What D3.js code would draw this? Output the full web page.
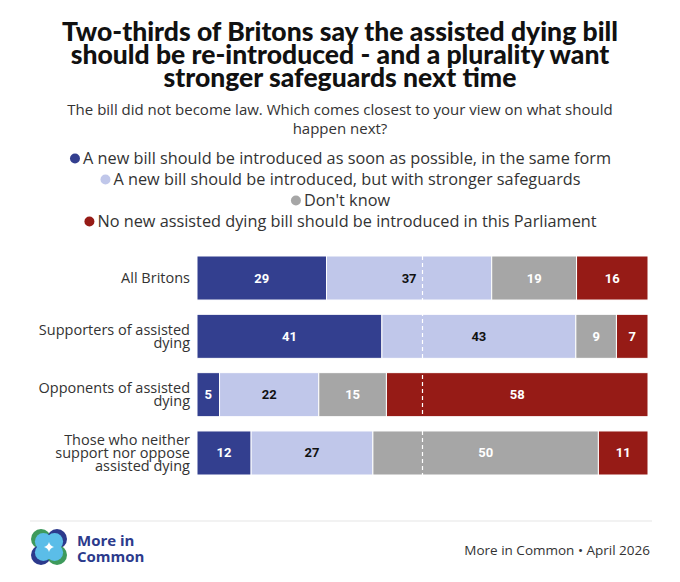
<!DOCTYPE html>
<html>
<head>
<meta charset="utf-8">
<script src="https://cdn.jsdelivr.net/npm/d3@7"></script>
<style>
  body { margin: 0; background: #fff; }
  svg { display: block; font-family: "Open Sans", "Noto Sans", sans-serif; }
</style>
</head>
<body>
<svg id="chart" width="680" height="582"></svg>
<script>
const categories = [
    ["All Britons"],
    ["Supporters of assisted", "dying"],
    ["Opponents of assisted", "dying"],
    ["Those who neither", "support nor oppose", "assisted dying"]
];
const seriesNames = [
    "A new bill should be introduced as soon as possible, in the same form",
    "A new bill should be introduced, but with stronger safeguards",
    "Don't know",
    "No new assisted dying bill should be introduced in this Parliament"
];
const sameForm = [29, 41, 5, 12];
const strongerSafeguards = [37, 43, 22, 27];
const dontKnow = [19, 9, 15, 50];
const noNewBill = [16, 7, 58, 11];
const colors = ["#333f8f", "#c0c7ea", "#a6a6a6", "#961b16"];
const labelColors = ["#fff", "#111", "#fff", "#fff"];
const titleLines = [
    "Two-thirds of Britons say the assisted dying bill",
    "should be re-introduced - and a plurality want",
    "stronger safeguards next time"
];
const subtitleLines = [
    "The bill did not become law. Which comes closest to your view on what should",
    "happen next?"
];
const footerText = "More in Common \u2022 April 2026";

const svg = d3.select("#chart");

// title + subtitle
svg.append("g").selectAll("text").data(titleLines).join("text")
    .attr("x", 340).attr("y", (d, i) => 40.5 + i * 23)
    .attr("text-anchor", "middle")
    .attr("font-family", "Lato, sans-serif")
    .attr("font-size", 26.5).attr("font-weight", 900).attr("fill", "#111")
    .text(d => d);

svg.append("g").selectAll("text").data(subtitleLines).join("text")
    .attr("x", 340).attr("y", (d, i) => 115 + i * 19)
    .attr("text-anchor", "middle")
    .attr("font-size", 15).attr("fill", "#333")
    .text(d => d);

// legend, one centred line per series
const legend = svg.append("g").selectAll("g").data(seriesNames).join("g")
    .attr("transform", (d, i) => `translate(340,${164 + i * 21})`);
legend.append("text")
    .attr("x", 7).attr("text-anchor", "middle")
    .attr("font-size", 16.3).attr("fill", "#333")
    .text(d => d)
    .each(function (d, i) {
        const w = this.getComputedTextLength();
        d3.select(this.parentNode).append("circle")
            .attr("cx", 7 - w / 2 - 8).attr("cy", -5.5).attr("r", 5)
            .attr("fill", colors[i]);
    });

// stacked bars, each row scaled to its own total (rounded shares can add to 101)
const rows = categories.map((c, i) => {
    const vals = [sameForm[i], strongerSafeguards[i], dontKnow[i], noNewBill[i]];
    const total = d3.sum(vals);
    let acc = 0;
    return vals.map((v, k) => {
        const s = { row: i, k, v, x0: acc / total * 100, x1: (acc + v) / total * 100 };
        acc += v;
        return s;
    });
});

const x = d3.scaleLinear().domain([0, 100]).range([197, 648]);
const y = d3.scaleBand().domain(d3.range(categories.length)).range([249, 482]).paddingInner(0.245).paddingOuter(0.12);

const bars = svg.append("g");
rows.forEach(segs => {
    bars.selectAll(null).data(segs).join("rect")
        .attr("x", d => x(d.x0))
        .attr("y", d => y(d.row))
        .attr("width", d => x(d.x1) - x(d.x0))
        .attr("height", y.bandwidth())
        .attr("fill", d => colors[d.k])
        .attr("stroke", "#fff").attr("stroke-width", 1);
    bars.selectAll(null).data(segs).join("text")
        .attr("x", d => x((d.x0 + d.x1) / 2))
        .attr("y", d => y(d.row) + y.bandwidth() / 2 + 4.5)
        .attr("text-anchor", "middle")
        .attr("font-family", "'Liberation Sans Narrow', Roboto, sans-serif")
        .attr("font-size", 13).attr("font-weight", 700)
        .attr("fill", d => labelColors[d.k])
        .text(d => d.v);
});

// 50% reference line
svg.append("line")
    .attr("x1", x(50)).attr("x2", x(50))
    .attr("y1", y(0)).attr("y2", y(categories.length - 1) + y.bandwidth())
    .attr("stroke", "#fff").attr("stroke-width", 1.2).attr("stroke-dasharray", "4,3");

// category labels
const lineGap = 13;
const catLabels = svg.append("g").selectAll("text").data(categories).join("text")
    .attr("text-anchor", "end").attr("font-size", 14.5).attr("fill", "#333");
catLabels.each(function (lines, i) {
    const top = y(i) + y.bandwidth() / 2 - (lines.length - 1) * lineGap / 2 + 5;
    d3.select(this).selectAll("tspan").data(lines).join("tspan")
        .attr("x", 190).attr("y", (d, j) => top + j * lineGap)
        .text(d => d);
});

// footer
svg.append("line").attr("x1", 30).attr("x2", 652).attr("y1", 521).attr("y2", 521)
    .attr("stroke", "#eee").attr("stroke-width", 1.5);

const logo = svg.append("g").attr("transform", "translate(49,547)");
const petals = [
    { cx: -8, cy: -8, c: "#3e9a5c" }, { cx: 8, cy: -8, c: "#2c3a8c" },
    { cx: -8, cy: 8, c: "#2c3a8c" }, { cx: 8, cy: 8, c: "#3e9a5c" }
];
logo.selectAll("ellipse.outer").data(petals).join("ellipse")
    .attr("cx", d => d.cx).attr("cy", d => d.cy).attr("rx", 10).attr("ry", 10)
    .attr("fill", d => d.c);
logo.selectAll("ellipse.inner").data(petals).join("ellipse")
    .attr("cx", d => d.cx * 0.7).attr("cy", d => d.cy * 0.7).attr("rx", 8.5).attr("ry", 8.5)
    .attr("fill", "#5bbde8");
logo.append("path").attr("d", "M0,-5 Q1,-1 5,0 Q1,1 0,5 Q-1,1 -5,0 Q-1,-1 0,-5Z").attr("fill", "#fff");

svg.append("text").attr("x", 77).attr("y", 546)
    .attr("font-size", 15).attr("font-weight", 700).attr("fill", "#2c3a8c").text("More in");
svg.append("text").attr("x", 77).attr("y", 562)
    .attr("font-size", 15).attr("font-weight", 700).attr("fill", "#2c3a8c").text("Common");

svg.append("text").attr("x", 650).attr("y", 555).attr("text-anchor", "end")
    .attr("font-size", 13.5).attr("fill", "#333").text(footerText);
</script>
</body>
</html>
